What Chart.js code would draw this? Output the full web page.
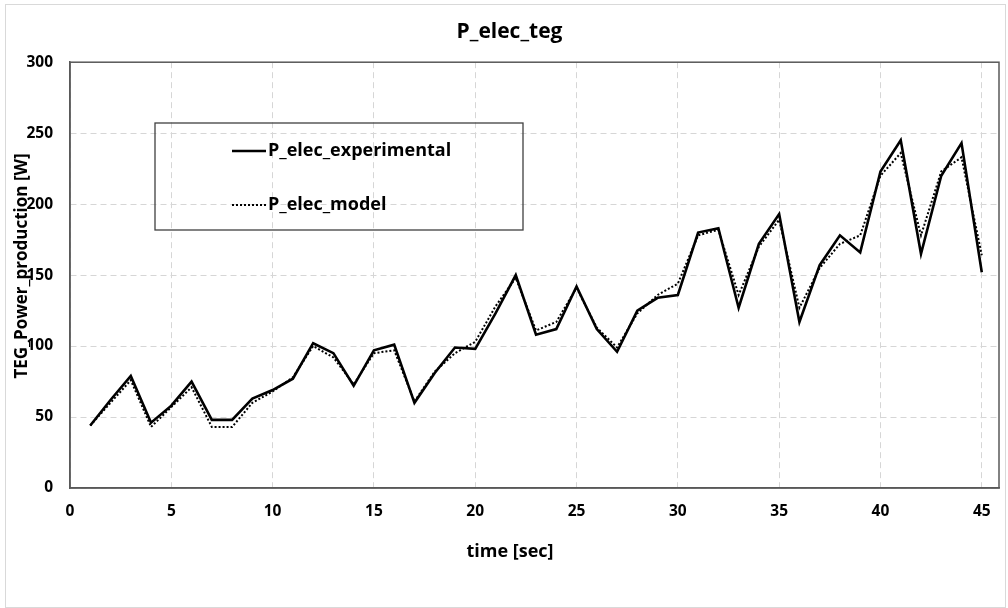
<!DOCTYPE html>
<html>
<head>
<meta charset="utf-8">
<title>P_elec_teg</title>
<script src="https://cdn.jsdelivr.net/npm/chart.js@4.4.1/dist/chart.umd.min.js"></script>
<style>
  html, body { margin: 0; padding: 0; background: #ffffff; }
  #wrap { position: relative; width: 1008px; height: 608px; }
  #frame {
    position: absolute; left: 5px; top: 4px; width: 1001px; height: 604px;
    box-sizing: border-box; border: 1px solid #d9d9d9; pointer-events: none;
  }
  canvas { position: absolute; left: 0; top: 0; }
</style>
</head>
<body>
<div id="wrap">
  <canvas id="tegChart" width="1008" height="608"></canvas>
  <div id="frame"></div>
</div>
<script>
const timeSec = [
  1, 2, 3, 4, 5, 6, 7, 8, 9, 10, 11, 12, 13, 14, 15,
  16, 17, 18, 19, 20, 21, 22, 23, 24, 25, 26, 27, 28, 29, 30,
  31, 32, 33, 34, 35, 36, 37, 38, 39, 40, 41, 42, 43, 44, 45,
];

const pElecExperimental = [
  44, 62, 79, 46, 58, 75, 48, 48, 63, 69, 77, 102, 95, 72, 97,
  101, 60, 81, 99, 98, 123, 150, 108, 112, 142, 112, 96, 125, 134, 136,
  180, 183, 127, 172, 193, 117, 157, 178, 166, 223, 245, 165, 220, 243, 152,
];

const pElecModel = [
  44, 60, 76, 43, 57, 71, 43, 43, 60, 68, 78, 100, 92, 73, 95,
  97, 61, 82, 95, 103, 128, 148, 111, 117, 141, 113, 99, 123, 136, 144,
  178, 182, 136, 170, 189, 127, 155, 172, 178, 220, 236, 178, 223, 233, 164,
];

const xTickValues = [0, 5, 10, 15, 20, 25, 30, 35, 40, 45];
const yTickValues = [0, 50, 100, 150, 200, 250, 300];

const xTitle = "time [sec]";
const yTitle = "TEG_Power_production [W]";

const fontFamily = "'Open Sans', Lato, sans-serif";
const gridColor = "#d6d6d6";
const axisColor = "#595959";

// border round the plot area, axis titles, and the boxed legend
const plotFramePlugin = {
  id: "plotFramePlugin",
  afterDraw(chart) {
    const { ctx, chartArea } = chart;
    ctx.save();
    ctx.strokeStyle = axisColor;
    ctx.lineWidth = 1.5;
    ctx.strokeRect(chartArea.left, chartArea.top, chartArea.right - chartArea.left, chartArea.bottom - chartArea.top);

    ctx.fillStyle = "#000000";
    ctx.textAlign = "center";
    ctx.textBaseline = "middle";
    ctx.font = "bold 18px " + fontFamily;
    ctx.fillText(xTitle, 510, 552);

    ctx.save();
    ctx.translate(22, 266);
    ctx.rotate(-Math.PI / 2);
    ctx.font = "bold 17px " + fontFamily;
    ctx.fillText(yTitle, 0, 0);
    ctx.restore();

    const box = { x: 155, y: 123, w: 368, h: 107 };
    ctx.strokeStyle = "#404040";
    ctx.lineWidth = 1.3;
    ctx.strokeRect(box.x, box.y, box.w, box.h);

    ctx.font = "bold 18px " + fontFamily;
    ctx.textAlign = "left";
    const rows = [151, 205];
    chart.data.datasets.forEach((dataset, index) => {
      const y = rows[index];
      ctx.beginPath();
      ctx.strokeStyle = dataset.borderColor;
      ctx.lineWidth = dataset.borderWidth;
      ctx.setLineDash(dataset.borderDash || []);
      ctx.moveTo(232, y);
      ctx.lineTo(266, y);
      ctx.stroke();
      ctx.setLineDash([]);
      ctx.fillText(dataset.label, 268, y);
    });
    ctx.restore();
  },
};

function keepTicks(values) {
  return (axis) => {
    axis.ticks = values.map((value) => ({ value }));
  };
}

function createTegChart() {
  const canvas = document.getElementById("tegChart");

  new Chart(canvas, {
    type: "line",
    data: {
      datasets: [
        {
          label: "P_elec_experimental",
          data: timeSec.map((t, i) => ({ x: t, y: pElecExperimental[i] })),
          borderColor: "#000000",
          borderWidth: 2.6,
          pointRadius: 0,
          tension: 0,
        },
        {
          label: "P_elec_model",
          data: timeSec.map((t, i) => ({ x: t, y: pElecModel[i] })),
          borderColor: "#000000",
          borderWidth: 2,
          borderDash: [2, 2],
          pointRadius: 0,
          tension: 0,
        },
      ],
    },
    options: {
      responsive: false,
      animation: false,
      layout: { padding: { left: 20, right: 9, top: 0, bottom: 0 } },
      scales: {
        x: {
          type: "linear",
          min: 0,
          max: 45.85,
          afterBuildTicks: keepTicks(xTickValues),
          afterFit(scale) {
            scale.height = 120;
          },
          ticks: {
            color: "#000000",
            font: { family: fontFamily, size: 15.5, weight: "bold" },
            padding: 14,
            maxRotation: 0,
          },
          grid: { color: gridColor, lineWidth: 1, drawTicks: false },
          border: { color: axisColor, width: 1.5, dash: [6, 4] },
        },
        y: {
          min: 0,
          max: 300,
          afterBuildTicks: keepTicks(yTickValues),
          afterFit(scale) {
            scale.width = 50;
          },
          ticks: {
            color: "#000000",
            font: { family: fontFamily, size: 15.5, weight: "bold" },
            padding: 17,
          },
          grid: { color: gridColor, lineWidth: 1, drawTicks: false },
          border: { color: axisColor, width: 1.5, dash: [6, 4] },
        },
      },
      plugins: {
        legend: { display: false },
        tooltip: { enabled: false },
        title: {
          display: true,
          text: "P_elec_teg",
          color: "#000000",
          font: { family: fontFamily, size: 21, weight: "bold" },
          padding: { top: 19, bottom: 18 },
        },
      },
    },
    plugins: [plotFramePlugin],
  });
}

window.addEventListener("DOMContentLoaded", () => {
  Chart.defaults.font.family = fontFamily;
  createTegChart();
});
</script>
</body>
</html>
